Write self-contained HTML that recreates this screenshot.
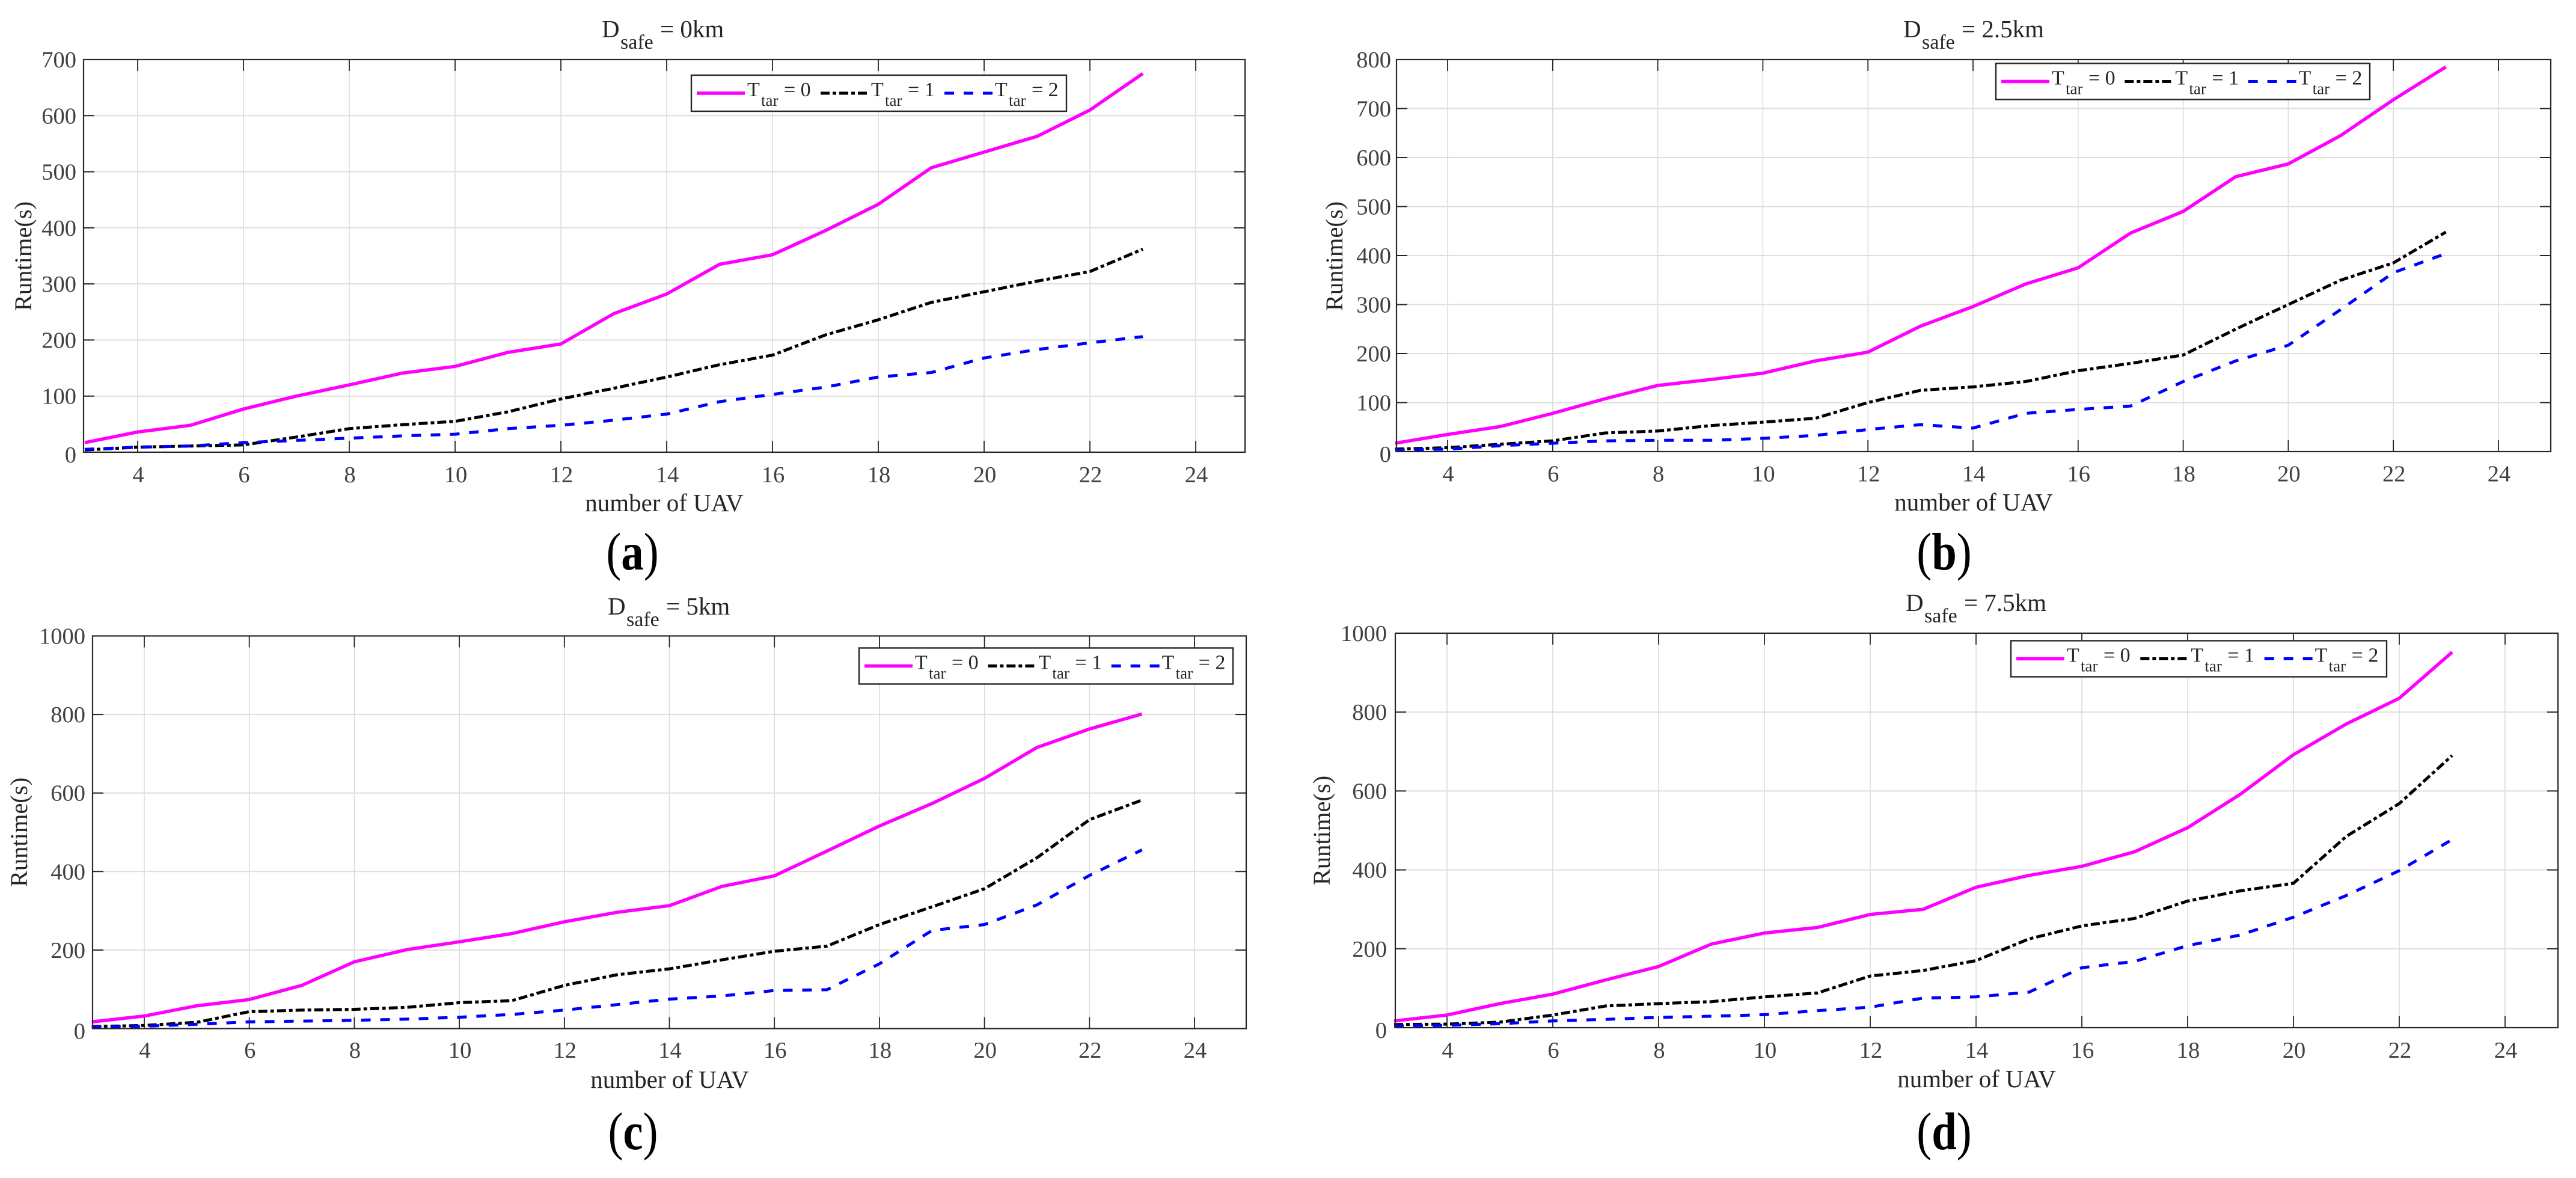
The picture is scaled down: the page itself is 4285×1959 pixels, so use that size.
<!DOCTYPE html>
<html lang="en">
<head>
<meta charset="utf-8">
<title>Runtime vs number of UAV</title>
<style>
html,body{margin:0;padding:0;background:#fff;}
#figure{display:block;width:4285px;height:1959px;}
text{font-family:"Liberation Serif",serif;}
</style>
</head>
<body>
<svg id="figure" xmlns="http://www.w3.org/2000/svg" width="4285" height="1959" viewBox="0 0 4285 1959"></svg>
<script>
// Shared data
const uavCounts = [3,4,5,6,7,8,9,10,11,12,13,14,15,16,17,18,19,20,21,22,23];
const xTickValues = [4,6,8,10,12,14,16,18,20,22,24];
const seriesNames = ['T0','T1','T2'];

// Panel (a) D_safe = 0km
const panelATitle = '0km';
const panelAYTicks = [0,100,200,300,400,500,600,700];
const panelAT0 = [17,36,48,77,100,120,141,153,178,193,247,282,335,352,395,442,507,535,563,610,675];
const panelAT1 = [4,9,11,13,27,42,49,55,72,95,114,134,156,173,209,236,267,286,305,322,362];
const panelAT2 = [5,9,11,17,21,25,29,32,42,48,57,68,90,103,116,134,142,168,183,195,206];

// Panel (b) D_safe = 2.5km
const panelBTitle = '2.5km';
const panelBYTicks = [0,100,200,300,400,500,600,700,800];
const panelBT0 = [17,35,51,78,108,135,147,160,185,203,256,296,342,375,446,490,561,587,645,718,785];
const panelBT1 = [5,8,15,22,38,42,53,60,68,100,125,132,143,165,180,197,250,300,350,385,448];
const panelBT2 = [3,5,12,17,22,23,23,27,33,45,55,48,78,86,93,143,185,217,290,365,404];

// Panel (c) D_safe = 5km
const panelCTitle = '5km';
const panelCYTicks = [0,200,400,600,800,1000];
const panelCT0 = [17,32,58,74,110,170,201,221,242,272,296,313,362,389,452,516,573,637,716,763,801];
const panelCT1 = [5,8,16,43,47,49,54,66,71,110,137,152,175,197,210,265,310,356,435,532,582];
const panelCT2 = [4,6,11,17,19,21,24,29,36,47,61,75,83,97,99,165,250,265,315,390,455];

// Panel (d) D_safe = 7.5km
const panelDTitle = '7.5km';
const panelDYTicks = [0,200,400,600,800,1000];
const panelDT0 = [17,32,61,85,121,155,212,240,254,287,300,356,386,409,446,507,592,692,770,835,952];
const panelDT1 = [8,9,14,32,55,61,66,78,88,131,145,170,225,258,277,321,347,366,485,568,690];
const panelDT2 = [4,6,10,17,21,26,29,33,43,52,75,78,90,152,168,208,235,280,335,398,477];

const NS = 'http://www.w3.org/2000/svg';
const root = document.getElementById('figure');

function mk(parent, tag, attrs, name, txt) {
  const el = document.createElementNS(NS, tag);
  for (const k in attrs) el.setAttribute(k, attrs[k]);
  
  
  if (txt !== undefined) el.textContent = txt;
  parent.appendChild(el);
  return el;
}

const styleT0 = {stroke:'#ff00ff','stroke-width':5.5,'stroke-dasharray':'none'};
const styleT1 = {stroke:'#000000','stroke-width':5,'stroke-dasharray':'15 5 6 5'};
const styleT2 = {stroke:'#0000ff','stroke-width':5,'stroke-dasharray':'16 16'};
const seriesStyles = [styleT0, styleT1, styleT2];

function drawPanel(p) {
  const g = mk(root, 'g', {}, 'panel-' + p.id);
  const yMax = p.yTicks[p.yTicks.length - 1];
  const sx = v => p.x4 + (v - 4) * p.unit;
  const sy = v => p.bottom - (v / yMax) * (p.bottom - p.top);

  // grid
  xTickValues.forEach(v => {
    mk(g, 'line', {x1:sx(v),x2:sx(v),y1:p.top,y2:p.bottom,stroke:'#dcdcdc','stroke-width':1.6}, 'x-gridline-' + v);
  });
  p.yTicks.forEach(v => {
    if (v === 0 || v === yMax) return;
    mk(g, 'line', {x1:p.left,x2:p.right,y1:sy(v),y2:sy(v),stroke:'#dedede','stroke-width':2}, 'y-gridline-' + v);
  });

  // ticks
  xTickValues.forEach(v => {
    mk(g, 'line', {x1:sx(v),x2:sx(v),y1:p.bottom,y2:p.bottom-19,stroke:'#262626','stroke-width':1.8}, 'x-tick-bottom-' + v);
    mk(g, 'line', {x1:sx(v),x2:sx(v),y1:p.top,y2:p.top+19,stroke:'#262626','stroke-width':1.8}, 'x-tick-top-' + v);
    mk(g, 'text', {x:sx(v)+1,y:p.xTickBase,'text-anchor':'middle','font-size':38.5,fill:'#404040'}, 'x-tick-label-' + v, String(v));
  });
  p.yTicks.forEach(v => {
    mk(g, 'line', {x1:p.left,x2:p.left+18,y1:sy(v),y2:sy(v),stroke:'#262626','stroke-width':2}, 'y-tick-left-' + v);
    mk(g, 'line', {x1:p.right,x2:p.right-18,y1:sy(v),y2:sy(v),stroke:'#262626','stroke-width':2}, 'y-tick-right-' + v);
    const dy = v === 0 ? 17 : 13;
    mk(g, 'text', {x:p.yTickRight,y:sy(v)+dy,'text-anchor':'end','font-size':38.5,fill:'#404040'}, 'y-tick-label-' + v, String(v));
  });

  // series
  p.series.forEach((vals, i) => {
    const pts = vals.map((v, j) => sx(uavCounts[j]).toFixed(1) + ',' + sy(v).toFixed(1)).join(' ');
    const s = seriesStyles[i];
    mk(g, 'polyline', {points:pts,fill:'none',stroke:s.stroke,'stroke-width':s['stroke-width'],'stroke-dasharray':s['stroke-dasharray'],'stroke-linejoin':'miter'}, 'series-' + seriesNames[i]);
  });

  // frame
  mk(g, 'rect', {x:p.left,y:p.top,width:p.right-p.left,height:p.bottom-p.top,fill:'none',stroke:'#262626','stroke-width':2.2}, 'plot-frame');

  // title
  const t = mk(g, 'g', {}, 'chart-title');
  mk(t, 'text', {x:p.titleX,y:p.titleBase,'font-size':41,fill:'#262626'}, 'title-d', 'D');
  mk(t, 'text', {x:p.titleX+31,y:p.titleBase+19,'font-size':34,fill:'#262626'}, 'title-subscript', 'safe');
  mk(t, 'text', {x:p.titleX+97,y:p.titleBase,'font-size':41,fill:'#262626'}, 'title-value', '= ' + p.title);

  // axis labels
  mk(g, 'text', {x:p.xLabelX,y:p.xLabelBase,'text-anchor':'middle','font-size':41,fill:'#262626'}, 'x-axis-title', 'number of UAV');
  mk(g, 'text', {transform:'translate(' + (p.yLabelX+13) + ' ' + p.yLabelY + ') rotate(-90)','text-anchor':'middle','font-size':40.5,fill:'#262626'}, 'y-axis-title', 'Runtime(s)');

  // legend
  const lg = mk(g, 'g', {}, 'legend');
  mk(lg, 'rect', {x:p.legX,y:p.legY,width:p.legW,height:60,fill:'#ffffff',stroke:'#262626','stroke-width':2.4}, 'legend-box');
  seriesNames.forEach((nm, i) => {
    const s = seriesStyles[i];
    const o = p.legX + i * (p.legW - 6) / 3;
    const e = mk(lg, 'g', {}, 'legend-entry-' + nm);
    mk(e, 'line', {x1:o+9,x2:o+89,y1:p.legY+30,y2:p.legY+30,stroke:s.stroke,'stroke-width':s['stroke-width'],'stroke-dasharray':s['stroke-dasharray']}, 'legend-line-' + nm);
    mk(e, 'text', {x:o+93,y:p.legY+35,'font-size':34,fill:'#262626'}, 'legend-t', 'T');
    mk(e, 'text', {x:o+116,y:p.legY+51,'font-size':27,fill:'#262626'}, 'legend-subscript', 'tar');
    mk(e, 'text', {x:o+154,y:p.legY+35,'font-size':34,fill:'#262626'}, 'legend-value', '= ' + i);
  });

  // caption
  const c = mk(g, 'g', {transform:'translate(' + p.capX + ' ' + p.capBase + ') scale(0.85 1)'}, 'panel-caption');
  const cap = mk(c, 'text', {x:0,y:0,'text-anchor':'middle','font-size':88,fill:'#000000'}, 'caption-text', '(');
  const letter = document.createElementNS(NS, 'tspan');
  
  
  letter.setAttribute('font-weight', 'bold');
  letter.textContent = p.id;
  cap.appendChild(letter);
  cap.appendChild(document.createTextNode(')'));
}

drawPanel({id:'a',title:panelATitle,yTicks:panelAYTicks,series:[panelAT0,panelAT1,panelAT2],
  left:139,right:2071,top:99,bottom:752,x4:229,unit:88,yTickRight:127,xTickBase:802,
  titleX:1001,titleBase:62,xLabelX:1105,xLabelBase:850,yLabelX:39,yLabelY:426,
  legX:1150,legY:125,legW:624,capX:1052,capBase:947});
drawPanel({id:'b',title:panelBTitle,yTicks:panelBYTicks,series:[panelBT0,panelBT1,panelBT2],
  left:2323,right:4243,top:99,bottom:751,x4:2408,unit:87.4,yTickRight:2314,xTickBase:800.5,
  titleX:3166,titleBase:62,xLabelX:3283,xLabelBase:849,yLabelX:2220,yLabelY:426,
  legX:3320,legY:105.5,legW:622,capX:3234,capBase:947});
drawPanel({id:'c',title:panelCTitle,yTicks:panelCYTicks,series:[panelCT0,panelCT1,panelCT2],
  left:154,right:2073,top:1057.5,bottom:1710.5,x4:240,unit:87.35,yTickRight:142,xTickBase:1759,
  titleX:1011,titleBase:1022,xLabelX:1114,xLabelBase:1809,yLabelX:32,yLabelY:1384,
  legX:1429,legY:1077.5,legW:622,capX:1053,capBase:1911});
drawPanel({id:'d',title:panelDTitle,yTicks:panelDYTicks,series:[panelDT0,panelDT1,panelDT2],
  left:2321,right:4255,top:1053,bottom:1709,x4:2407,unit:88,yTickRight:2307,xTickBase:1759,
  titleX:3170,titleBase:1016,xLabelX:3288,xLabelBase:1808,yLabelX:2199,yLabelY:1381,
  legX:3345,legY:1065.5,legW:625,capX:3234,capBase:1911});
</script>
</body>
</html>
